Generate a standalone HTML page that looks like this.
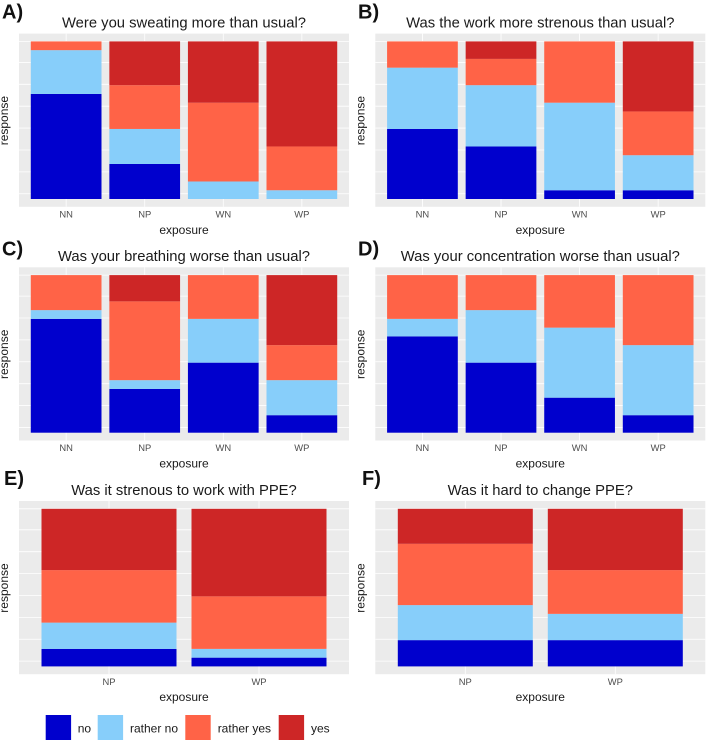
<!DOCTYPE html>
<html lang="en">
<head>
<meta charset="utf-8">
<title>Survey responses by exposure</title>
<style>
  html, body { margin: 0; padding: 0; background: #fff; }
  svg { display: block; }
  text { font-family: "Liberation Sans", sans-serif; }
</style>
</head>
<body>
<svg id="chart" xmlns="http://www.w3.org/2000/svg" width="708" height="742" viewBox="0 0 708 742"></svg>
<script>
// Categories and legend
const fourExposures = ["NN", "NP", "WN", "WP"];
const twoExposures = ["NP", "WP"];
const responseLevels = ["no", "rather no", "rather yes", "yes"];
const responseColors = ["#0000CD", "#87CEFA", "#FF6347", "#CD2626"];
// Horizontal gridlines on the response-count scale
const gridTicks = [0.6, 3.1, 5.6, 8.1, 10.6, 13.1, 15.6, 18];

// Panel A
const sweatNo = [12, 4, 0, 0];
const sweatRatherNo = [5, 4, 2, 1];
const sweatRatherYes = [1, 5, 9, 5];
const sweatYes = [0, 5, 7, 12];
// Panel B
const workNo = [8, 6, 1, 1];
const workRatherNo = [7, 7, 10, 4];
const workRatherYes = [3, 3, 7, 5];
const workYes = [0, 2, 0, 8];
// Panel C
const breathNo = [13, 5, 8, 2];
const breathRatherNo = [1, 1, 5, 4];
const breathRatherYes = [4, 9, 5, 4];
const breathYes = [0, 3, 0, 8];
// Panel D
const concNo = [11, 8, 4, 2];
const concRatherNo = [2, 6, 8, 8];
const concRatherYes = [5, 4, 6, 8];
const concYes = [0, 0, 0, 0];
// Panel E
const ppeWorkNo = [2, 1];
const ppeWorkRatherNo = [3, 1];
const ppeWorkRatherYes = [6, 6];
const ppeWorkYes = [7, 10];
// Panel F
const ppeChangeNo = [3, 3];
const ppeChangeRatherNo = [4, 3];
const ppeChangeRatherYes = [7, 5];
const ppeChangeYes = [4, 7];

const svg = document.getElementById('chart');
const NS = 'http://www.w3.org/2000/svg';

function make(tag, attrs, parent) {
  const el = document.createElementNS(NS, tag);
  for (const k in attrs) el.setAttribute(k, attrs[k]);
  parent.appendChild(el);
  return el;
}

function label(parent, name, str, x, y, size, fill, anchor, weight) {
  const t = make('text', { x: x, y: y, 'font-size': size, fill: fill, 'text-anchor': anchor || 'middle', 'font-weight': weight || 'normal' }, parent);
  
  
  t.textContent = str;
  return t;
}

function drawPanel(cfg) {
  const g = make('g', {}, svg);
  
  

  const left = cfg.left, top = cfg.top, W = 330, H = 173.2;
  const plotTop = top + 7.8, plotH = 157.6;
  const cats = cfg.categories;
  const band = W / (cats.length + 0.2);
  const xCenter = function (i) { return left + band * (0.6 + i); };
  const yScale = function (v) { return plotTop + plotH * (1 - v / 18); };
  const cx = left + W / 2;

  label(g, 'panel-letter', cfg.letter + ')', cfg.letterX, cfg.letterY, 20, '#111', 'start', 'bold');
  label(g, 'chart-title', cfg.title, cx, top - 6.1, 14.8, '#1a1a1a');

  const bg = make('rect', { x: left, y: top, width: W, height: H, fill: '#EBEBEB' }, g);
  
  

  gridTicks.forEach(function (v) {
    const line = make('line', { x1: left, x2: left + W, y1: yScale(v), y2: yScale(v), stroke: '#fff', 'stroke-width': 0.8 }, g);
    
    
  });
  cats.forEach(function (c, i) {
    const line = make('line', { x1: xCenter(i), x2: xCenter(i), y1: top, y2: top + H, stroke: '#fff', 'stroke-width': 0.8 }, g);
    
    
  });

  cats.forEach(function (c, i) {
    let total = 0;
    cfg.series.forEach(function (s) { total += s[i]; });
    let cum = 0;
    cfg.series.forEach(function (s, k) {
      const v = s[i] / total * 18;
      if (v > 0) {
        const r = make('rect', {
          x: xCenter(i) - band * 0.45,
          y: yScale(cum + v),
          width: band * 0.9,
          height: yScale(cum) - yScale(cum + v),
          fill: responseColors[k]
        }, g);
        
        
      }
      cum += v;
    });
    label(g, 'x-tick-label', c, xCenter(i), top + H + 10.7, 9.4, '#4D4D4D');
  });

  label(g, 'x-axis-title', 'exposure', cx, top + H + 27, 12, '#1a1a1a');
  const ry = top + 87;
  const rx = left - 11;
  const yTitle = label(g, 'y-axis-title', 'response', rx, ry, 12, '#1a1a1a');
  yTitle.setAttribute('transform', 'rotate(-90 ' + rx + ' ' + ry + ')');
}

drawPanel({ letter: 'A', letterX: 2, letterY: 18.5, left: 19, top: 33.6, title: 'Were you sweating more than usual?', categories: fourExposures, series: [sweatNo, sweatRatherNo, sweatRatherYes, sweatYes] });
drawPanel({ letter: 'B', letterX: 358, letterY: 18.5, left: 375.3, top: 33.6, title: 'Was the work more strenous than usual?', categories: fourExposures, series: [workNo, workRatherNo, workRatherYes, workYes] });
drawPanel({ letter: 'C', letterX: 2, letterY: 255.5, left: 19, top: 267.3, title: 'Was your breathing worse than usual?', categories: fourExposures, series: [breathNo, breathRatherNo, breathRatherYes, breathYes] });
drawPanel({ letter: 'D', letterX: 358, letterY: 255.5, left: 375.3, top: 267.3, title: 'Was your concentration worse than usual?', categories: fourExposures, series: [concNo, concRatherNo, concRatherYes, concYes] });
drawPanel({ letter: 'E', letterX: 4, letterY: 485, left: 19, top: 501, title: 'Was it strenous to work with PPE?', categories: twoExposures, series: [ppeWorkNo, ppeWorkRatherNo, ppeWorkRatherYes, ppeWorkYes] });
drawPanel({ letter: 'F', letterX: 362, letterY: 485, left: 375.3, top: 501, title: 'Was it hard to change PPE?', categories: twoExposures, series: [ppeChangeNo, ppeChangeRatherNo, ppeChangeRatherYes, ppeChangeYes] });

// Legend
const legendGroup = make('g', {}, svg);


const legendSwatchX = [45.7, 97.7, 185.3, 278.7];
const legendLabelX = [77.7, 130, 217.7, 311];
responseLevels.forEach(function (lvl, i) {
  const sw = make('rect', { x: legendSwatchX[i], y: 715, width: 25.4, height: 25, fill: responseColors[i] }, legendGroup);
  
  
  label(legendGroup, 'legend-entry', lvl, legendLabelX[i], 732.3, 12, '#1a1a1a', 'start');
});
</script>
</body>
</html>
